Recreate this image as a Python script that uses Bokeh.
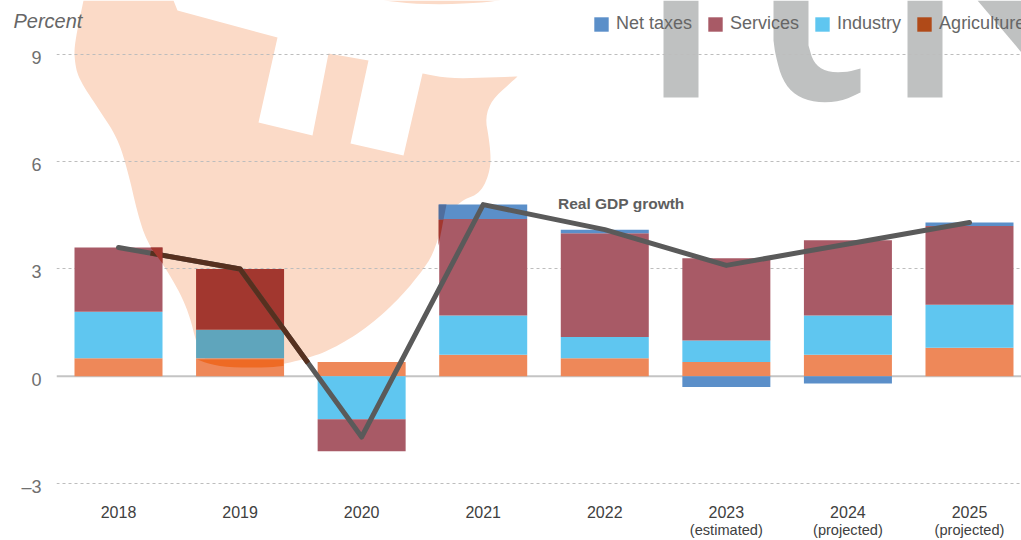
from bokeh.plotting import figure
from bokeh.embed import file_html
from bokeh.resources import INLINE
from bokeh.models import (Range1d, LinearAxis, FixedTicker, Span, Label, Legend, LegendItem,
                          PolyAnnotation, Title)
import numpy as np

# ---- data ----
years = [2018, 2019, 2020, 2021, 2022, 2023, 2024, 2025]
agriculture = [0.5, 0.5, 0.4, 0.6, 0.5, 0.4, 0.6, 0.8]
industry = [1.3, 0.8, -1.2, 1.1, 0.6, 0.6, 1.1, 1.2]
services = [1.8, 1.7, -0.9, 2.7, 2.9, 2.3, 2.1, 2.2]
net_taxes = [0.0, 0.0, 0.0, 0.4, 0.1, -0.3, -0.2, 0.1]
real_gdp = [3.6, 3.0, -1.7, 4.8, 4.1, 3.1, 3.7, 4.3]
x_tick_labels = ["2018", "2019", "2020", "2021", "2022", "2023", "2024", "2025"]
x_sub_labels = {2023: "(estimated)", 2024: "(projected)", 2025: "(projected)"}
y_ticks = [-3, 0, 3, 6, 9]
y_tick_labels = {-3: "\u20133", 0: "0", 3: "3", 6: "6", 9: "9"}
legend_order = ["Net taxes", "Services", "Industry", "Agriculture"]

# ---- styles ----
FONT = "Liberation Sans"
C_TAX, C_SERV, C_IND, C_AG = "#5B8FC9", "#A85A66", "#5FC6F0", "#EE8859"
C_AG_LEGEND = "#B04A18"
C_LINE = "#5A5A5A"
PEACH, GREY_MARK = "#FBDAC7", "#BFC1C1"

W, H = 1021, 540
LEFT, BOTTOM = 56, 50
PX_PER_UNIT = 35.83
ZERO_Y = 376.5
STEP = 121.57
C0 = 118.0
BAR_W = 88 / STEP

x_range = Range1d(2018 + (LEFT - C0) / STEP, 2018 + (W - C0) / STEP)
y_range = Range1d(-(H - BOTTOM - ZERO_Y) / PX_PER_UNIT, ZERO_Y / PX_PER_UNIT)

p = figure(width=W, height=H, x_range=x_range, y_range=y_range, output_backend="svg",
           toolbar_location=None, y_axis_location=None, x_axis_location="below",
           min_border_left=LEFT, min_border_right=0, min_border_top=0, min_border_bottom=BOTTOM,
           outline_line_color=None, background_fill_color="white", border_fill_color="white")


def smooth(pts, n=3):
    """Chaikin corner cutting of an open polyline, for the backdrop's soft contour."""
    a = np.array(pts, dtype=float)
    for _ in range(n):
        q = 0.75 * a[:-1] + 0.25 * a[1:]
        r = 0.25 * a[:-1] + 0.75 * a[1:]
        b = np.empty((2 * len(q), 2))
        b[0::2], b[1::2] = q, r
        a = np.vstack([a[:1], b, a[-1:]])
    return [tuple(v) for v in a]


def wm(pts, color=PEACH, level="image"):
    xs = [a for a, _ in pts]
    ys = [b for _, b in pts]
    p.add_layout(PolyAnnotation(xs=xs, ys=ys, xs_units="canvas", ys_units="canvas", fill_color=color,
                                fill_alpha=1, line_color=None, level=level, editable=False))


# watermark (decorative backdrop)
notches = [(83, 0), (173, 0), (177, 10), (277, 37), (258, 122), (312, 135), (328, 53), (368, 60), (350, 143),
           (403, 155), (422, 73)]
top_arm = smooth([(422, 73), (450, 78), (483, 77), (517, 76)], 2)
outer = smooth([(517, 76), (483, 107), (490, 147), (490, 170), (480, 193), (460, 200), (443, 220), (433, 253),
                (422, 270), (400, 297), (367, 327), (333, 348), (307, 358), (267, 367), (227, 367),
                (207, 363), (197, 347), (187, 307), (167, 270), (147, 243), (137, 213), (128, 173),
                (117, 137), (97, 107), (78, 78), (74, 60), (74, 43), (83, 0)])
wm(notches + top_arm + outer)
wm(smooth([(383, 0), (420, 4), (470, 3), (500, 0)], 2))
wm([(663, 0), (698, 0), (698, 97), (663, 97)], GREY_MARK)
wm([(773, 0), (808, 0)] + smooth([(808, 45), (813, 62), (825, 71), (845, 72), (860, 68)], 2)
   + smooth([(860, 92), (840, 101), (815, 102), (795, 95), (782, 80), (775, 55), (773, 40)], 2), GREY_MARK)
wm([(907, 0), (942, 0), (942, 97), (907, 97)], GREY_MARK)
wm([(977, 0), (1021, 0), (1021, 52)], GREY_MARK)

p.xgrid.visible = False
p.ygrid.ticker = FixedTicker(ticks=[t for t in y_ticks if t != 0])
p.ygrid.grid_line_color = "#BDBDBD"
p.ygrid.grid_line_dash = "3 3"
p.ygrid.grid_line_width = 1
p.add_layout(Span(location=0, dimension="width", line_color="#C4C4C4", line_width=2, level="underlay"))

# stacked bars
x = np.array(years, dtype=float)
pos = np.zeros(len(x))
neg = np.zeros(len(x))
serv_colors = [C_SERV] * 8
ind_colors = [C_IND] * 8
serv_colors[1] = "#A2372F"   # the bar in front of the watermark reads darker
ind_colors[1] = "#5FA5BC"
for vals, cols in ((agriculture, [C_AG] * 8), (industry, ind_colors), (services, serv_colors), (net_taxes, [C_TAX] * 8)):
    v = np.array(vals, dtype=float)
    bottom = np.where(v >= 0, pos, neg)
    top = bottom + v
    pos = np.where(v >= 0, top, pos)
    neg = np.where(v < 0, top, neg)
    p.vbar(x=x, bottom=bottom, top=top, width=BAR_W, fill_color=cols, line_color=None)

# patches where the watermark darkens the bars
wm([(195, 359), (283, 359), (283, 365.5)] + smooth([(283, 365.5), (267, 367), (227, 367), (207, 363), (197, 359)], 2),
   "#EE6A24", "glyph")
wm([(150, 247), (162, 247), (162, 263)], "#A2372F", "glyph")
wm([(438, 219), (443, 219), (438, 245)], "#A2372F", "glyph")
wm([(438, 204), (446, 204), (443, 219), (438, 219)], "#4F6E9E", "glyph")

# growth line
p.line(x, real_gdp, line_color=C_LINE, line_width=5, line_cap="round", line_join="round")
ox = np.array([2018 + (150 - C0) / STEP, 2019.0, 2019 + (307 - 239) / STEP])
p.line(ox, np.interp(ox, x, real_gdp), line_color="#56301F", line_width=5, line_join="round", line_cap="butt")


def quiet(ax):
    ax.axis_line_color = None
    ax.major_tick_line_color = None
    ax.minor_tick_line_color = None
    ax.major_tick_out = 0
    ax.major_tick_in = 0
    ax.minor_tick_out = 0
    ax.minor_tick_in = 0


# axes
p.xaxis.ticker = FixedTicker(ticks=years)
p.xaxis.major_label_overrides = {y: s for y, s in zip(years, x_tick_labels)}
quiet(p.xaxis[0])
p.xaxis.major_label_standoff = 16
p.xaxis.major_label_text_font = FONT
p.xaxis.major_label_text_font_size = "16px"
p.xaxis.major_label_text_color = "#404040"

sub = LinearAxis(ticker=FixedTicker(ticks=list(x_sub_labels)), major_label_overrides=x_sub_labels)
quiet(sub)
sub.major_label_standoff = 1
sub.major_label_text_font = FONT
sub.major_label_text_font_size = "14.6px"
sub.major_label_text_color = "#404040"
p.add_layout(sub, "below")

shift = 3.5 / PX_PER_UNIT
p.extra_y_ranges = {"ylab": Range1d(y_range.start + shift, y_range.end + shift)}
yax = LinearAxis(y_range_name="ylab", ticker=FixedTicker(ticks=y_ticks),
                 major_label_overrides=y_tick_labels)
quiet(yax)
yax.major_label_standoff = 15
yax.major_label_text_font = FONT
yax.major_label_text_font_size = "18px"
yax.major_label_text_color = "#707070"
p.add_layout(yax, "left")

# texts
p.title = Title(text="Percent", align="left", offset=13 - LEFT, standoff=-63, text_font=FONT,
                text_font_style="italic", text_font_size="20px", text_color="#666666")
p.add_layout(Label(x=557.5, y=203, x_units="canvas", y_units="canvas", text="Real GDP growth", text_font=FONT,
                   text_font_style="bold", text_font_size="15.5px", text_color="#5E5E5E",
                   text_baseline="middle"))

# legend
colors = [C_TAX, C_SERV, C_IND, C_AG_LEGEND]
items = []
for name, c in zip(legend_order, colors):
    r = p.vbar(x=[1900], top=[0], width=0.1, fill_color=c, line_color=None)
    items.append(LegendItem(label=name, renderers=[r]))
leg = Legend(items=items, orientation="horizontal", location=(536, H - BOTTOM - 35),
             glyph_width=18, glyph_height=18, label_standoff=6, spacing=14, padding=0, margin=0,
             border_line_color=None, background_fill_alpha=0, label_text_font=FONT,
             label_text_font_size="18px", label_text_color="#666666", label_height=14)
p.add_layout(leg, "center")

open("out.html", "w").write(file_html(p, INLINE))
